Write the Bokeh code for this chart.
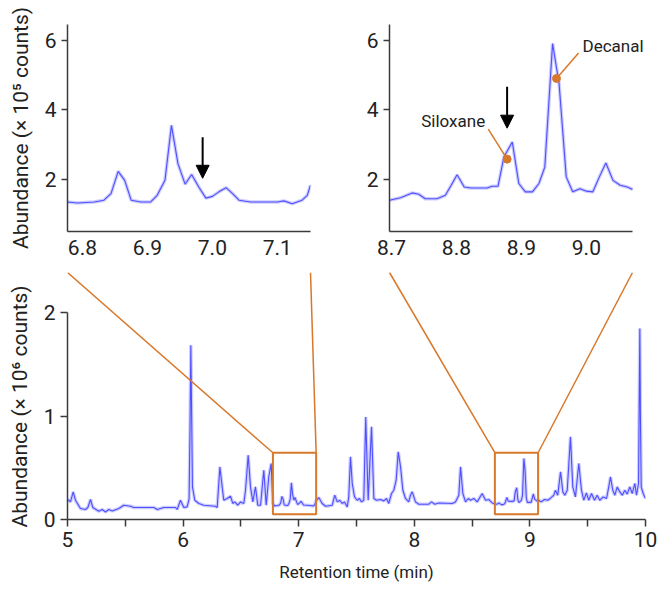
from bokeh.plotting import figure
from bokeh.layouts import column, row
from bokeh.models import FixedTicker, PrintfTickFormatter, Arrow, NormalHead, Label, Range1d
from bokeh.embed import file_html
from bokeh.resources import INLINE

# ---------------- data ----------------
# main chromatogram: retention time (min) and abundance (x 10^6 counts)
main_t = [5.000, 5.011, 5.026, 5.049, 5.069, 5.112, 5.156, 5.176, 5.199, 5.219, 5.271, 5.300, 5.329, 5.357,
          5.387, 5.444, 5.487, 5.545, 5.574, 5.747, 5.776, 5.833, 5.934, 5.949, 5.977, 6.006, 6.035, 6.052,
          6.060, 6.067, 6.074, 6.081, 6.101, 6.136, 6.179, 6.280, 6.295, 6.318, 6.338, 6.352, 6.381, 6.410,
          6.430, 6.447, 6.473, 6.497, 6.525, 6.540, 6.563, 6.583, 6.603, 6.626, 6.646, 6.670, 6.698, 6.719,
          6.741, 6.762, 6.776, 6.792, 6.818, 6.833, 6.844, 6.855, 6.865, 6.875, 6.905, 6.915, 6.927, 6.937,
          6.947, 6.958, 6.968, 6.979, 6.990, 7.000, 7.021, 7.041, 7.100, 7.123, 7.138, 7.151, 7.174, 7.203,
          7.232, 7.290, 7.312, 7.333, 7.355, 7.376, 7.396, 7.420, 7.433, 7.448, 7.463, 7.483, 7.506, 7.526,
          7.543, 7.563, 7.580, 7.601, 7.630, 7.650, 7.673, 7.708, 7.736, 7.760, 7.779, 7.803, 7.823, 7.843,
          7.861, 7.881, 7.901, 7.924, 7.952, 7.967, 7.982, 8.010, 8.039, 8.126, 8.149, 8.177, 8.212, 8.328,
          8.356, 8.385, 8.400, 8.420, 8.443, 8.466, 8.486, 8.515, 8.544, 8.587, 8.616, 8.645, 8.674, 8.697,
          8.714, 8.732, 8.752, 8.770, 8.783, 8.801, 8.812, 8.847, 8.864, 8.873, 8.886, 8.896, 8.906, 8.927,
          8.936, 8.948, 8.958, 8.969, 8.979, 9.000, 9.010, 9.030, 9.041, 9.063, 9.077, 9.098, 9.126, 9.155,
          9.184, 9.207, 9.221, 9.241, 9.265, 9.285, 9.302, 9.323, 9.351, 9.371, 9.394, 9.423, 9.446, 9.466,
          9.489, 9.509, 9.533, 9.559, 9.582, 9.604, 9.634, 9.663, 9.682, 9.697, 9.717, 9.735, 9.755, 9.778,
          9.799, 9.821, 9.842, 9.864, 9.885, 9.908, 9.922, 9.940, 9.946, 9.951, 9.956, 9.963, 9.980, 10.000]
main_a = [0.190, 0.186, 0.170, 0.267, 0.186, 0.106, 0.097, 0.116, 0.193, 0.116, 0.080, 0.097, 0.073, 0.097,
          0.083, 0.106, 0.138, 0.128, 0.116, 0.116, 0.097, 0.116, 0.116, 0.097, 0.186, 0.116, 0.122, 0.200,
          0.900, 1.684, 1.000, 0.315, 0.186, 0.155, 0.138, 0.128, 0.116, 0.508, 0.315, 0.186, 0.203, 0.225,
          0.155, 0.170, 0.138, 0.170, 0.155, 0.283, 0.621, 0.315, 0.170, 0.315, 0.138, 0.138, 0.476, 0.138,
          0.411, 0.541, 0.155, 0.132, 0.135, 0.140, 0.159, 0.223, 0.197, 0.140, 0.135, 0.154, 0.197, 0.355,
          0.245, 0.186, 0.214, 0.178, 0.146, 0.151, 0.176, 0.140, 0.135, 0.130, 0.140, 0.183, 0.212, 0.155,
          0.128, 0.138, 0.235, 0.170, 0.186, 0.155, 0.170, 0.122, 0.218, 0.605, 0.348, 0.218, 0.186, 0.203,
          0.170, 0.186, 0.991, 0.186, 0.895, 0.203, 0.186, 0.193, 0.180, 0.203, 0.155, 0.251, 0.283, 0.380,
          0.653, 0.508, 0.283, 0.203, 0.170, 0.235, 0.267, 0.170, 0.148, 0.148, 0.170, 0.148, 0.160, 0.155,
          0.170, 0.235, 0.508, 0.251, 0.170, 0.203, 0.186, 0.203, 0.170, 0.251, 0.186, 0.193, 0.160, 0.150,
          0.147, 0.161, 0.144, 0.144, 0.154, 0.213, 0.178, 0.175, 0.180, 0.264, 0.307, 0.188, 0.164, 0.188,
          0.235, 0.590, 0.475, 0.207, 0.164, 0.166, 0.164, 0.247, 0.197, 0.178, 0.186, 0.170, 0.193, 0.186,
          0.212, 0.235, 0.283, 0.235, 0.460, 0.267, 0.235, 0.283, 0.798, 0.315, 0.218, 0.541, 0.283, 0.186,
          0.257, 0.186, 0.251, 0.186, 0.235, 0.186, 0.218, 0.203, 0.315, 0.411, 0.283, 0.235, 0.315, 0.267,
          0.235, 0.283, 0.245, 0.315, 0.251, 0.348, 0.235, 0.350, 1.200, 1.845, 1.000, 0.315, 0.251, 0.203]

# inset 1: abundance (x 10^5 counts)
in1_t = [6.777, 6.792, 6.818, 6.833, 6.844, 6.855, 6.865, 6.875, 6.890, 6.905, 6.915, 6.927, 6.937, 6.947,
         6.958, 6.968, 6.979, 6.990, 7.000, 7.010, 7.021, 7.031, 7.041, 7.059, 7.100, 7.110, 7.123, 7.138,
         7.146, 7.151]
in1_a = [1.35, 1.32, 1.35, 1.40, 1.59, 2.23, 1.97, 1.40, 1.35, 1.35, 1.54, 1.97, 3.55, 2.45,
         1.86, 2.14, 1.78, 1.46, 1.51, 1.64, 1.76, 1.59, 1.40, 1.35, 1.35, 1.38, 1.30, 1.40,
         1.54, 1.83]

# inset 2: abundance (x 10^5 counts)
in2_t = [8.697, 8.714, 8.732, 8.742, 8.752, 8.770, 8.783, 8.792, 8.801, 8.812, 8.822, 8.847, 8.855, 8.864,
         8.873, 8.886, 8.896, 8.906, 8.917, 8.927, 8.936, 8.948, 8.958, 8.969, 8.979, 8.990, 9.000, 9.010,
         9.020, 9.030, 9.041, 9.052, 9.063, 9.071]
in2_a = [1.40, 1.47, 1.61, 1.57, 1.44, 1.44, 1.54, 1.83, 2.13, 1.78, 1.75, 1.75, 1.80, 1.80,
         2.64, 3.07, 1.88, 1.64, 1.64, 1.88, 2.35, 5.90, 4.75, 2.07, 1.64, 1.73, 1.66, 1.64,
         2.07, 2.47, 1.97, 1.83, 1.78, 1.71]

in1_xticks = [6.8, 6.9, 7.0, 7.1]
in2_xticks = [8.7, 8.8, 8.9, 9.0]
in_yticks = [2, 4, 6]
main_xticks = [5, 6, 7, 8, 9, 10]
main_xminor = [5.5, 6.5, 7.5, 8.5, 9.5]
main_yticks = [0, 1, 2]

in1_range = (6.777, 7.151)
in2_range = (8.697, 9.071)
in_yrange = (0.5, 6.45)

# annotations
arrow1 = (6.985, 3.21, 2.03)
arrow2 = (8.878, 4.66, 3.47)
silox_text = (8.795, 3.67)
silox_line = (8.849, 3.44, 8.878, 2.58)
decanal_text = (8.994, 5.83)
decanal_line = (8.988, 5.63, 8.954, 4.90)

# ---------------- style ----------------
FONT = "Roboto"
TXT = "#222222"
AX = "#3a3a3a"
ORANGE = "#D8782A"
BLUE = "#4f4fff"
HALO = "#b8b8ff"
NB = "\u00a0"

# layout geometry (pixels, page has no margin)
L1, R1, T1, B1 = 67, 10, 24, 34
FW1, FH1 = 243, 207
L2, R2 = 69, 4
FW2 = 261                      # inset 2 frame is wider so the "Decanal" label fits
L3, R3, T3, B3 = 67, 13, 7, 70
FW3, FH3 = 578, 247
W1 = L1 + FW1 + R1
W2 = L2 + FW2 + R2
H1 = T1 + FH1 + B1
W3 = L3 + FW3 + R3
H3 = T3 + FH3 + B3
Y3_TOP = FH3 / 103.5  # main y-range top so that connector lines meet frame top
in2_view_end = in2_range[0] + FW2 * (in2_range[1] - in2_range[0]) / FW1


def style(p):
    p.outline_line_color = None
    p.xgrid.grid_line_color = None
    p.ygrid.grid_line_color = None
    p.background_fill_color = "white"
    p.border_fill_color = "white"
    for ax in (p.xaxis[0], p.yaxis[0]):
        ax.axis_line_color = AX
        ax.axis_line_width = 1.5
        ax.major_tick_line_color = AX
        ax.major_tick_line_width = 1.5
        ax.minor_tick_line_color = AX
        ax.minor_tick_line_width = 1.5
        ax.major_tick_in = 0
        ax.minor_tick_in = 0
        ax.major_label_text_font = FONT
        ax.major_label_text_font_size = "21px"
        ax.major_label_text_color = TXT
        ax.axis_label_text_font = FONT
        ax.axis_label_text_font_size = "21px"
        ax.axis_label_text_font_style = "normal"
        ax.axis_label_text_color = TXT


def trace(p, x, y):
    p.line(x, y, line_color=HALO, line_width=3.5, line_alpha=0.7)
    p.line(x, y, line_color=BLUE, line_width=1.1)


def inset(xr, view_end, ticks, left, width, ylabel):
    p = figure(width=width, height=H1, x_range=Range1d(xr[0], view_end), y_range=Range1d(*in_yrange),
               output_backend="svg", toolbar_location=None,
               min_border_left=left, min_border_right=width - left - round((view_end - xr[0]) / (xr[1] - xr[0]) * FW1),
               min_border_top=T1, min_border_bottom=B1)
    style(p)
    p.xaxis.ticker = FixedTicker(ticks=ticks)
    p.xaxis.formatter = PrintfTickFormatter(format="%.1f")
    p.xaxis.bounds = xr
    p.xaxis.major_tick_out = 0
    p.xaxis.major_label_standoff = 8
    p.yaxis.ticker = FixedTicker(ticks=in_yticks)
    p.yaxis.major_tick_out = 6
    p.yaxis.major_label_standoff = 5
    if ylabel:
        p.yaxis.axis_label = ylabel
        p.yaxis.axis_label_standoff = 9
    return p


p1 = inset(in1_range, in1_range[1], in1_xticks, L1, W1, "Abundance (× 10⁵ counts)")
trace(p1, in1_t, in1_a)
p1.add_layout(Arrow(end=NormalHead(size=13, fill_color="black", line_color="black"),
                    x_start=arrow1[0], y_start=arrow1[1], x_end=arrow1[0], y_end=arrow1[2],
                    line_color="black", line_width=2))

p2 = inset(in2_range, in2_view_end, in2_xticks, L2, W2, None)
trace(p2, in2_t, in2_a)
p2.add_layout(Arrow(end=NormalHead(size=13, fill_color="black", line_color="black"),
                    x_start=arrow2[0], y_start=arrow2[1], x_end=arrow2[0], y_end=arrow2[2],
                    line_color="black", line_width=2))
p2.segment(x0=[silox_line[0], decanal_line[0]], y0=[silox_line[1], decanal_line[1]],
           x1=[silox_line[2], decanal_line[2]], y1=[silox_line[3], decanal_line[3]],
           line_color=ORANGE, line_width=1.5)
p2.scatter(x=[silox_line[2], decanal_line[2]], y=[silox_line[3], decanal_line[3]],
           size=8, color=ORANGE)
p2.add_layout(Label(x=silox_text[0], y=silox_text[1], text="Siloxane", text_align="center",
                    text_baseline="middle", text_font=FONT, text_font_size="17px", text_color=TXT))
p2.add_layout(Label(x=decanal_text[0], y=decanal_text[1], text="Decanal", text_align="left",
                    text_baseline="middle", text_font=FONT, text_font_size="17px", text_color=TXT))

p3 = figure(width=W3, height=H3, x_range=Range1d(5, 10), y_range=Range1d(0, Y3_TOP),
            output_backend="svg", toolbar_location=None,
            min_border_left=L3, min_border_right=R3, min_border_top=T3, min_border_bottom=B3)
style(p3)
p3.xaxis.ticker = FixedTicker(ticks=main_xticks, minor_ticks=main_xminor)
p3.xaxis.formatter = PrintfTickFormatter(format="%d")
p3.xaxis.bounds = (5, 10)
p3.xaxis.major_tick_out = 7
p3.xaxis.minor_tick_out = 7
p3.xaxis.major_label_standoff = 5
p3.xaxis.axis_label = "Retention time (min)"
p3.xaxis.axis_label_text_font_size = "17px"
p3.xaxis.axis_label_standoff = 12
p3.yaxis.ticker = FixedTicker(ticks=main_yticks)
p3.yaxis.formatter = PrintfTickFormatter(format="%d")
p3.yaxis.bounds = (0, 2)
p3.yaxis.major_tick_out = 7
p3.yaxis.major_label_standoff = 5
p3.yaxis.axis_label = "Abundance (× 10⁶ counts)" + NB * 4
p3.yaxis.axis_label_standoff = 9
trace(p3, main_t, main_a)

# zoom boxes (inset ranges expressed in 10^6 counts) and connector lines
ppu = FW3 / 5.0
frame_edges_px = [L1, L1 + FW1, W1 + L2, W1 + L2 + FW1]
tops = [5 + (e - L3) / ppu for e in frame_edges_px]
yb, yt = in_yrange[0] / 10, in_yrange[1] / 10
p3.segment(x0=tops, y0=[Y3_TOP] * 4,
           x1=[in1_range[0], in1_range[1], in2_range[0], in2_range[1]], y1=[yt] * 4,
           line_color=ORANGE, line_width=1.5)
p3.quad(left=[in1_range[0], in2_range[0]], right=[in1_range[1], in2_range[1]],
        bottom=[yb, yb], top=[yt, yt], fill_alpha=0, line_color=ORANGE, line_width=2)

layout = column(row(p1, p2), p3)
open("out.html", "w").write(file_html(layout, INLINE))
